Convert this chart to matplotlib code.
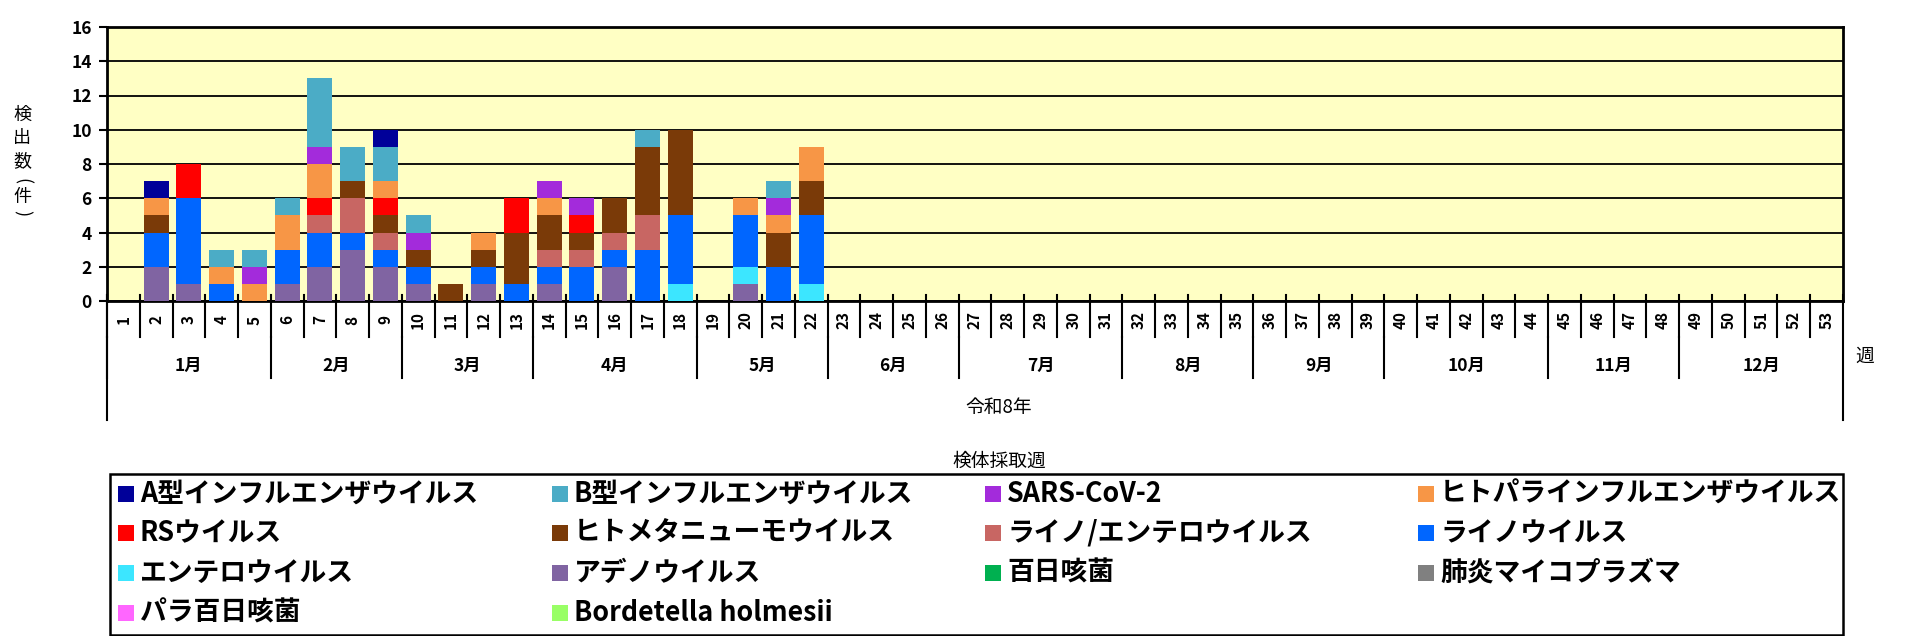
import numpy as np
import matplotlib
matplotlib.use("Agg")
import matplotlib.pyplot as plt
from matplotlib.transforms import blended_transform_factory
from matplotlib.patches import Rectangle

plt.rcParams["font.family"] = ["Noto Sans CJK JP", "DejaVu Sans"]
plt.rcParams["font.weight"] = "bold"

# weeks with data (令和8年)
weeks = list(range(1, 23))

# stacked from bottom to top
adeno        = [0, 2, 1, 0, 0, 1, 2, 3, 2, 1, 0, 1, 0, 1, 0, 2, 0, 0, 0, 1, 0, 0]
entero       = [0, 0, 0, 0, 0, 0, 0, 0, 0, 0, 0, 0, 0, 0, 0, 0, 0, 1, 0, 1, 0, 1]
rhino        = [0, 2, 5, 1, 0, 2, 2, 1, 1, 1, 0, 1, 1, 1, 2, 1, 3, 4, 0, 3, 2, 4]
rhino_entero = [0, 0, 0, 0, 0, 0, 1, 2, 1, 0, 0, 0, 0, 1, 1, 1, 2, 0, 0, 0, 0, 0]
hmpv         = [0, 1, 0, 0, 0, 0, 0, 1, 1, 1, 1, 1, 3, 2, 1, 2, 4, 5, 0, 0, 2, 2]
rsv          = [0, 0, 2, 0, 0, 0, 1, 0, 1, 0, 0, 0, 2, 0, 1, 0, 0, 0, 0, 0, 0, 0]
para_flu     = [0, 1, 0, 1, 1, 2, 2, 0, 1, 0, 0, 1, 0, 1, 0, 0, 0, 0, 0, 1, 1, 2]
sars         = [0, 0, 0, 0, 1, 0, 1, 0, 0, 1, 0, 0, 0, 1, 1, 0, 0, 0, 0, 0, 1, 0]
flu_b        = [0, 0, 0, 1, 1, 1, 4, 2, 2, 1, 0, 0, 0, 0, 0, 0, 1, 0, 0, 0, 1, 0]
flu_a        = [0, 1, 0, 0, 0, 0, 0, 0, 1, 0, 0, 0, 0, 0, 0, 0, 0, 0, 0, 0, 0, 0]
pertussis    = [0] * 22
mycoplasma   = [0] * 22
parapertussis = [0] * 22
holmesii     = [0] * 22

names = {
    "flu_a": "A型インフルエンザウイルス",
    "flu_b": "B型インフルエンザウイルス",
    "sars": "SARS-CoV-2",
    "para_flu": "ヒトパラインフルエンザウイルス",
    "rsv": "RSウイルス",
    "hmpv": "ヒトメタニューモウイルス",
    "rhino_entero": "ライノ/エンテロウイルス",
    "rhino": "ライノウイルス",
    "entero": "エンテロウイルス",
    "adeno": "アデノウイルス",
    "pertussis": "百日咳菌",
    "mycoplasma": "肺炎マイコプラズマ",
    "parapertussis": "パラ百日咳菌",
    "holmesii": "Bordetella holmesii",
}
colors = {
    "flu_a": "#000099", "flu_b": "#4BACC6", "sars": "#A32BDB",
    "para_flu": "#F79646", "rsv": "#FF0000", "hmpv": "#7A3A08",
    "rhino_entero": "#C86663", "rhino": "#0066FF", "entero": "#3CE6FF",
    "adeno": "#8064A2", "pertussis": "#00B050", "mycoplasma": "#808080",
    "parapertussis": "#FF66FF", "holmesii": "#99FF66",
}
series = {
    "adeno": adeno, "entero": entero, "rhino": rhino,
    "rhino_entero": rhino_entero, "hmpv": hmpv, "rsv": rsv,
    "para_flu": para_flu, "sars": sars, "flu_b": flu_b, "flu_a": flu_a,
    "pertussis": pertussis, "mycoplasma": mycoplasma,
    "parapertussis": parapertussis, "holmesii": holmesii,
}
# legend order, row by row
legend_rows = [
    ["flu_a", "flu_b", "sars", "para_flu"],
    ["rsv", "hmpv", "rhino_entero", "rhino"],
    ["entero", "adeno", "pertussis", "mycoplasma"],
    ["parapertussis", "holmesii"],
]

week_labels = [str(w) for w in range(1, 54)]
months = ["1月", "2月", "3月", "4月", "5月", "6月", "7月", "8月", "9月", "10月", "11月", "12月"]
month_weeks = [5, 4, 4, 5, 4, 4, 5, 4, 4, 5, 4, 5]

W, H = 1911, 636
fig = plt.figure(figsize=(W / 100, H / 100), dpi=100)
L, R, T, B = 107, 1843, 27, 301
ax = fig.add_axes([L / W, 1 - B / H, (R - L) / W, (B - T) / H])
ax.set_facecolor("#FFFFC4")

bottom = np.zeros(len(weeks))
for key, vals in series.items():
    ax.bar(weeks, vals, width=0.76, bottom=bottom, color=colors[key], zorder=3)
    bottom += np.array(vals)

ax.set_xlim(0.5, 53.5)
ax.set_ylim(0, 16)
ax.set_yticks(range(0, 17, 2))
ax.yaxis.grid(True, color="black", lw=1.3, zorder=1)
ax.tick_params(axis="y", length=6, width=1.5, labelsize=12.5, pad=5)
for lab in ax.get_yticklabels():
    lab.set_fontweight("bold")
ax.set_xticks([])
for s in ax.spines.values():
    s.set_linewidth(2)
    s.set_color("black")

def fy(px):
    return 1 - px / H

tr = blended_transform_factory(ax.transData, fig.transFigure)

# week numbers and separators
for i, lab in enumerate(week_labels):
    ax.text(i + 1, fy(320), lab, transform=tr, rotation=90, ha="center",
            va="center", fontsize=11, fontweight="bold")
for i in range(53):
    ax.plot([i + 0.5, i + 0.5], [fy(295), fy(337)], transform=tr,
            color="black", lw=1.5, clip_on=False, zorder=5)

# months
start = 0.5
for m, n in zip(months, month_weeks):
    ax.text(start + n / 2, fy(366), m, transform=tr, ha="center",
            va="center", fontsize=12.5, fontweight="bold")
    ax.plot([start, start], [fy(337), fy(378)], transform=tr,
            color="black", lw=1.5, clip_on=False)
    start += n
for xe in (0.5, 53.5):
    ax.plot([xe, xe], [fy(295), fy(420)], transform=tr, color="black",
            lw=1.5, clip_on=False)

fig.text(999 / W, fy(407), "令和8年", ha="center", va="center", fontsize=13.5,
         fontweight="normal")
fig.text(1865 / W, fy(356), "週", ha="center", va="center", fontsize=13.5,
         fontweight="normal")
fig.text(999 / W, fy(461), "検体採取週", ha="center", va="center",
         fontsize=13.5, fontweight="normal")

# vertical y label (parentheses turned sideways)
for ch, yp, rot in zip(["検", "出", "数", "(", "件", ")"],
                       [115, 138, 161, 181, 197, 213],
                       [0, 0, 0, -90, 0, -90]):
    fig.text(22 / W, fy(yp), ch, ha="center", va="center", fontsize=13,
             fontweight="normal", rotation=rot)

# legend drawn in pixel space
lax = fig.add_axes([0, 0, 1, 1], facecolor="none")
lax.set_xlim(0, W)
lax.set_ylim(H, 0)
lax.axis("off")
lax.add_patch(Rectangle((110, 474), 1843 - 110, 635 - 474, fill=False,
                        edgecolor="black", lw=1.8))
col_x = [118, 552, 985, 1418]
row_y = [494, 533, 573, 613]
for r, row in enumerate(legend_rows):
    for c, key in enumerate(row):
        lax.add_patch(Rectangle((col_x[c], row_y[r] - 8), 16, 16,
                                facecolor=colors[key], edgecolor="none"))
        lax.text(col_x[c] + 22, row_y[r], names[key], ha="left", va="center",
                 fontsize=19.3, fontweight="bold")

fig.savefig("out.png", dpi=100)
